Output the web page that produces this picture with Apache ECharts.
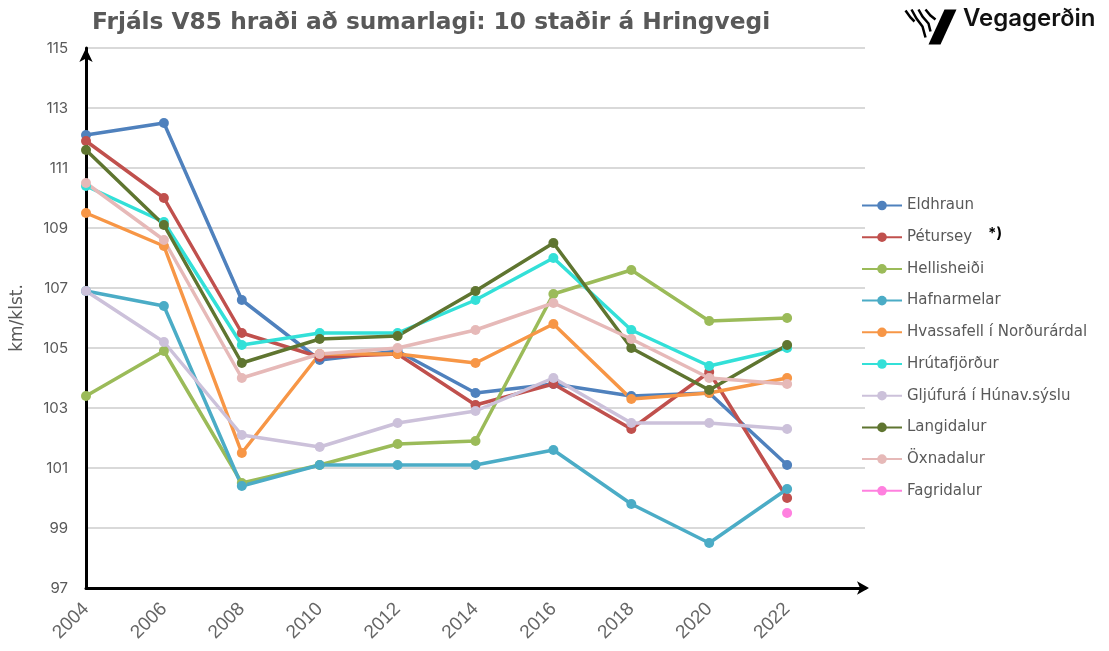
<!DOCTYPE html>
<html>
<head>
<meta charset="utf-8">
<style>
  html, body { margin: 0; padding: 0; background: #fff; }
  #chart { width: 1109px; height: 651px; }
</style>
<script src="https://cdn.jsdelivr.net/npm/echarts@6/dist/echarts.min.js"></script>
</head>
<body>
<div id="chart"></div>
<script>
// ár á x-ás (síðasta tóma bilið er fyrir örina)
const years = ['2004', '2006', '2008', '2010', '2012', '2014', '2016', '2018', '2020', '2022', ''];

const eldhraun     = [112.1, 112.5, 106.6, 104.6, 104.9, 103.5, 103.8, 103.4, 103.5, 101.1];
const petursey     = [111.9, 110.0, 105.5, 104.7, 104.8, 103.1, 103.8, 102.3, 104.2, 100.0];
const hellisheidi  = [103.4, 104.9, 100.5, 101.1, 101.8, 101.9, 106.8, 107.6, 105.9, 106.0];
const hafnarmelar  = [106.9, 106.4, 100.4, 101.1, 101.1, 101.1, 101.6, 99.8, 98.5, 100.3];
const hvassafell   = [109.5, 108.4, 101.5, 104.8, 104.8, 104.5, 105.8, 103.3, 103.5, 104.0];
const hrutafjordur = [110.4, 109.2, 105.1, 105.5, 105.5, 106.6, 108.0, 105.6, 104.4, 105.0];
const gljufura     = [106.9, 105.2, 102.1, 101.7, 102.5, 102.9, 104.0, 102.5, 102.5, 102.3];
const langidalur   = [111.6, 109.1, 104.5, 105.3, 105.4, 106.9, 108.5, 105.0, 103.6, 105.1];
const oxnadalur    = [110.5, 108.6, 104.0, 104.8, 105.0, 105.6, 106.5, 105.3, 104.0, 103.8];
const fagridalur   = [null, null, null, null, null, null, null, null, null, 99.5];

const seriesList = [
  { name: 'Eldhraun', data: eldhraun, color: '#4f81bd' },
  { name: 'Pétursey', data: petursey, color: '#c0504d' },
  { name: 'Hellisheiði', data: hellisheidi, color: '#9bbb59' },
  { name: 'Hafnarmelar', data: hafnarmelar, color: '#4bacc6' },
  { name: 'Hvassafell í Norðurárdal', data: hvassafell, color: '#f79646' },
  { name: 'Hrútafjörður', data: hrutafjordur, color: '#33e0d8' },
  { name: 'Gljúfurá í Húnav.sýslu', data: gljufura, color: '#ccc1da' },
  { name: 'Langidalur', data: langidalur, color: '#5f7530' },
  { name: 'Öxnadalur', data: oxnadalur, color: '#e6b9b8' },
  { name: 'Fagridalur', data: fagridalur, color: '#ff80df' }
];

const grey = '#595959';
const font = 'Inter, "Noto Sans", sans-serif';
const wide = '"DejaVu Sans", sans-serif';

const chart = echarts.init(document.getElementById('chart'));

const option = {
  animation: false,
  backgroundColor: '#fff',
  textStyle: { fontFamily: font },
  title: {
    text: 'Frjáls V85 hraði að sumarlagi: 10 staðir á Hringvegi',
    left: 87,
    top: 6,
    textStyle: { color: grey, fontSize: 23.3, fontWeight: 'bold', fontFamily: wide }
  },
  grid: { left: 86, right: 244, top: 48, bottom: 63, containLabel: false },
  legend: {
    orient: 'vertical',
    left: 856,
    top: 193,
    itemWidth: 40,
    itemHeight: 12,
    itemGap: 16.7,
    textStyle: { color: grey, fontSize: 15, fontFamily: wide },
    data: seriesList.map(s => s.name)
  },
  xAxis: {
    type: 'category',
    data: years,
    boundaryGap: false,
    axisLine: {
      show: true,
      lineStyle: { color: '#000', width: 3 },
      symbol: ['none', 'arrow'],
      symbolSize: [10, 12],
      symbolOffset: [0, 4]
    },
    axisTick: { show: false },
    axisLabel: {
      rotate: 45,
      color: '#666',
      fontSize: 19,
      margin: 18,
      interval: 0,
      fontFamily: '"Liberation Sans", Arial, sans-serif'
    },
    splitLine: { show: false }
  },
  yAxis: {
    type: 'value',
    min: 97,
    max: 115,
    interval: 2,
    name: 'km/klst.',
    nameLocation: 'middle',
    nameGap: 60,
    nameRotate: 90,
    nameTextStyle: { color: grey, fontSize: 17, fontFamily: wide },
    axisLine: {
      show: true,
      lineStyle: { color: '#000', width: 3 },
      symbol: ['none', 'arrow'],
      symbolSize: [10, 14]
    },
    axisTick: { show: false },
    axisLabel: { color: grey, fontSize: 15, margin: 18, fontFamily: font },
    splitLine: { show: true, lineStyle: { color: '#d9d9d9', width: 2 } }
  },
  series: seriesList.map(s => ({
    name: s.name,
    type: 'line',
    data: s.data,
    color: s.color,
    symbol: 'circle',
    symbolSize: 10,
    lineStyle: { width: 3.5, color: s.color },
    itemStyle: { color: s.color },
    connectNulls: false,
    z: 3
  })),
  graphic: [
    {
      type: 'text',
      left: 988,
      top: 226,
      style: { text: '*)', fontSize: 15, fontWeight: 'bold', fill: '#000', fontFamily: font }
    },
    {
      // merki Vegagerðarinnar
      type: 'group',
      left: 903,
      top: 7,
      children: [
        { type: 'polyline', shape: { points: [[0, 1], [5, 8], [9, 12]] }, style: { stroke: '#000', lineWidth: 2.5, fill: null } },
        { type: 'polyline', shape: { points: [[6, 0], [11, 9], [17, 17], [20, 28]] }, style: { stroke: '#000', lineWidth: 2.5, fill: null } },
        { type: 'polyline', shape: { points: [[13, 0], [17, 7], [23, 14], [25, 22]] }, style: { stroke: '#000', lineWidth: 2.5, fill: null } },
        { type: 'polyline', shape: { points: [[20, 0], [25, 6], [30, 10]] }, style: { stroke: '#000', lineWidth: 2.5, fill: null } },
        { type: 'polygon', shape: { points: [[39, 0], [51, 0], [35, 35], [23, 35]] }, style: { fill: '#000' } }
      ]
    },
    {
      type: 'text',
      left: 963,
      top: 7,
      style: { text: 'Vegagerðin', fontSize: 24, fontWeight: 600, fill: '#111', fontFamily: font }
    }
  ]
};

chart.setOption(option);
</script>
</body>
</html>
